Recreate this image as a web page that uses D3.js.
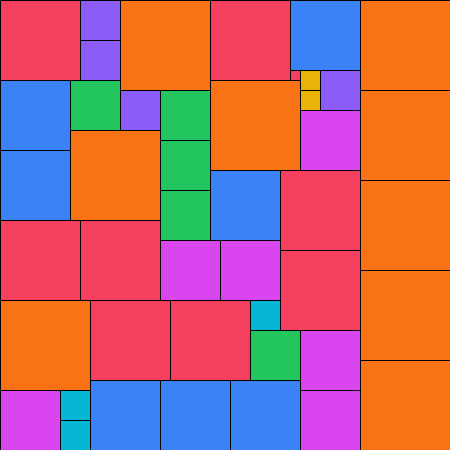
<!DOCTYPE html>
<html>
<head>
<meta charset="utf-8">
<script src="https://cdn.jsdelivr.net/npm/d3@7"></script>
<style>
  html, body { margin: 0; padding: 0; background: #fff; }
  svg { display: block; }
</style>
</head>
<body>
<div id="chart"></div>
<script>
// square packing, in grid units of 10px
var cols   = [0, 8, 8, 12, 21, 0, 0, 7, 12, 16, 16, 16, 7, 21, 29, 29, 30, 30, 32, 30, 36, 36, 36, 36, 36, 21, 28, 28, 16, 22, 0, 8, 0, 9, 17, 25, 25, 30, 30, 0, 6, 6, 9, 16, 23];
var rows   = [0, 0, 4, 0, 0, 8, 15, 8, 9, 9, 14, 19, 13, 8, 0, 7, 7, 9, 7, 11, 0, 9, 18, 27, 36, 17, 17, 25, 24, 24, 22, 22, 30, 30, 30, 30, 33, 33, 39, 39, 39, 42, 38, 38, 38];
var sizes  = [8, 4, 4, 9, 8, 7, 7, 5, 4, 5, 5, 5, 9, 9, 7, 1, 2, 2, 4, 6, 9, 9, 9, 9, 9, 7, 8, 8, 6, 6, 8, 8, 9, 8, 8, 3, 5, 6, 6, 6, 3, 3, 7, 7, 7];
var groups = ['red', 'purple', 'purple', 'orange', 'red', 'blue', 'blue', 'green', 'purple', 'green', 'green', 'green', 'orange', 'orange', 'blue', 'red', 'yellow', 'yellow', 'purple', 'pink',
              'orange', 'orange', 'orange', 'orange', 'orange', 'blue', 'red', 'red', 'pink', 'pink', 'red', 'red', 'orange', 'red', 'red', 'cyan', 'green', 'pink', 'pink', 'pink', 'cyan', 'cyan', 'blue', 'blue', 'blue'];

var width = 450;
var height = 450;

var color = d3.scaleOrdinal()
    .domain(['red', 'purple', 'orange', 'blue', 'green', 'yellow', 'pink', 'cyan'])
    .range(['#f43f5e', '#8b5cf6', '#f97316', '#3b82f6', '#22c55e', '#eab308', '#d946ef', '#06b6d4']);

var x = d3.scaleLinear().domain([0, 45]).range([0, width]);
var y = d3.scaleLinear().domain([0, 45]).range([0, height]);

var data = cols.map(function (c, i) {
    return { col: c, row: rows[i], size: sizes[i], group: groups[i] };
});

var svg = d3.select('#chart')
    .append('svg')
    .attr('width', width)
    .attr('height', height);

svg.selectAll('rect')
    .data(data)
    .enter()
    .append('rect')
    .attr('x', function (d) { return x(d.col) + 0.5; })
    .attr('y', function (d) { return y(d.row) + 0.5; })
    .attr('width', function (d) { return x(d.size) - x(0); })
    .attr('height', function (d) { return y(d.size) - y(0); })
    .attr('fill', function (d) { return color(d.group); })
    .attr('stroke', '#000')
    .attr('stroke-width', 1);
</script>
</body>
</html>
